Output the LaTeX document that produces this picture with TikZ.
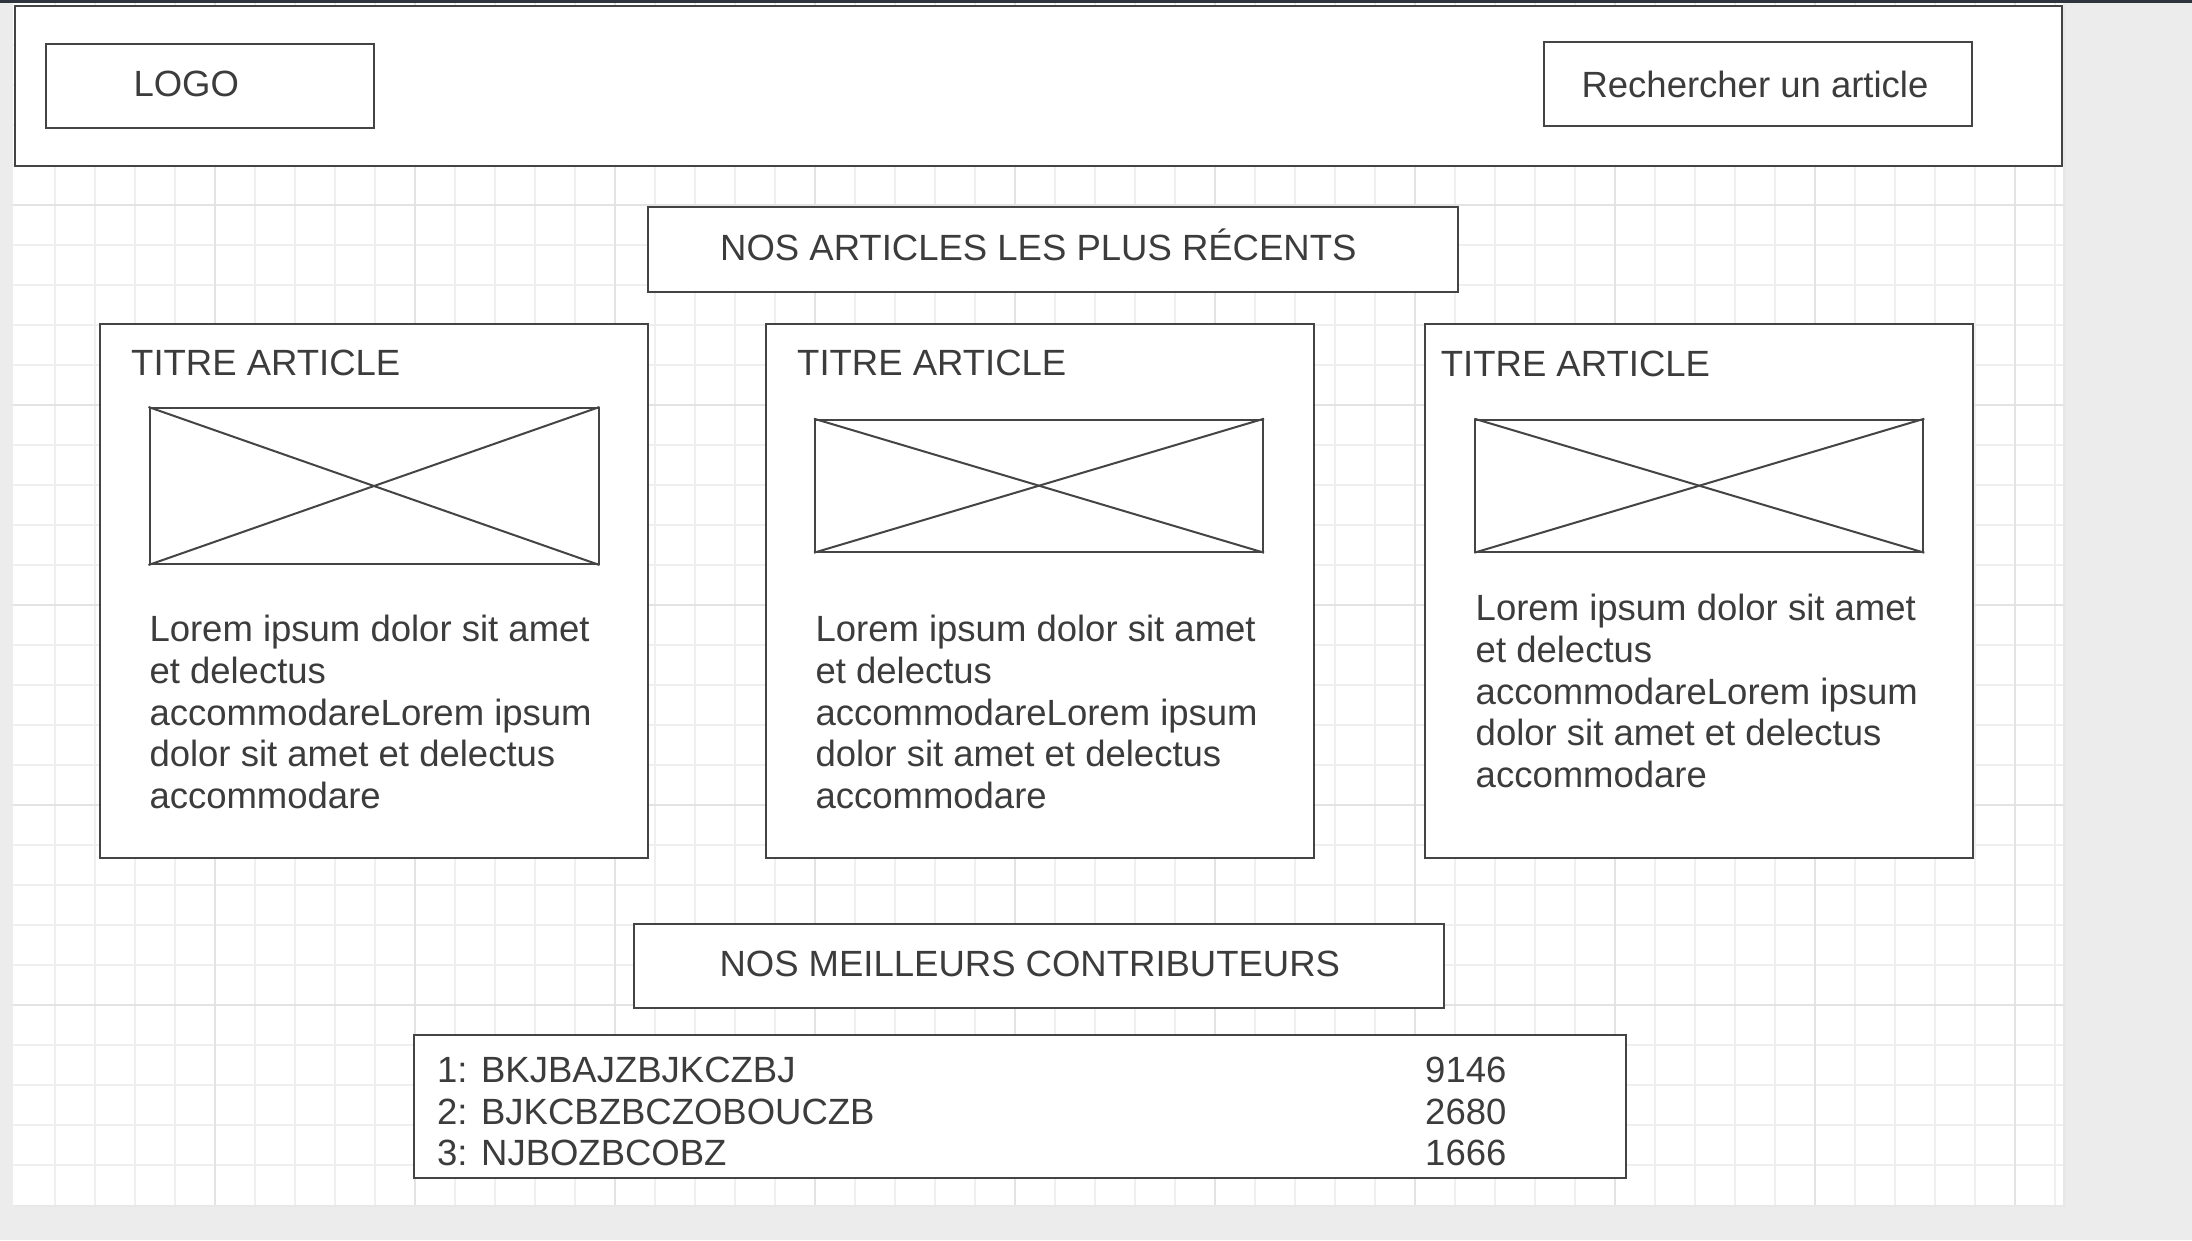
\documentclass[tikz,border=0pt]{standalone}
\usepackage{fontspec}
\setmainfont{Liberation Sans}

\definecolor{pagebg}{HTML}{ECECEC}
\definecolor{topbar}{HTML}{30343C}
\definecolor{gridminor}{HTML}{EFEFEF}
\definecolor{gridmajor}{HTML}{E3E3E3}
\definecolor{stroke}{HTML}{444444}
\definecolor{ink}{HTML}{3C3C3C}

\tikzset{
  frame/.style={draw=stroke, fill=white, line width=2pt, inner sep=0pt,
                anchor=north west, rectangle},
  label/.style={text=ink, inner sep=0pt, font=\fontsize{36.5}{41.7}\selectfont},
  % multi-line blocks are placed by the baseline of their last line
  para/.style={label, align=left, anchor=base west},
  minorline/.style={draw=gridminor, line width=1.8pt},
  majorline/.style={draw=gridmajor, line width=1.8pt},
  cross/.style={draw=stroke, line width=2pt},
}

\newcommand{\loremtext}{Lorem ipsum dolor sit amet\\et delectus\\accommodareLorem ipsum\\dolor sit amet et delectus\\accommodare}

\begin{document}
\begin{tikzpicture}[x=1pt, y=-1pt]
  \useasboundingbox (0,0) rectangle (2192,1240);

  % window background and top bar
  \fill[pagebg] (0,0) rectangle (2192,1240);
  \fill[topbar] (0,0) rectangle (2192,2.5);

  % drawing canvas with a soft edge
  \fill[black!9] (14,4) rectangle (2066,1207);
  \fill[white] (13,3) rectangle (2063,1204.5);

  % grid: minor lines every 40, major every 200
  \foreach \k [evaluate=\k as \xx using 15+40*\k] in {1,...,51}
    \draw[minorline] (\xx,3) -- (\xx,1204.5);
  \foreach \k [evaluate=\k as \yy using 4.7+40*\k] in {1,...,29}
    \draw[minorline] (13,\yy) -- (2063,\yy);
  \foreach \k [evaluate=\k as \xx using 15+40*\k] in {5,10,...,50}
    \draw[majorline] (\xx,3) -- (\xx,1204.5);
  \foreach \k [evaluate=\k as \yy using 4.7+40*\k] in {5,10,...,25}
    \draw[majorline] (13,\yy) -- (2063,\yy);

  % header bar
  \node[frame, minimum width=2047pt, minimum height=159.5pt] (header) at (14,5) {};
  \node[frame, minimum width=328pt, minimum height=84pt] (logobox) at (45,43) {};
  \node[label, anchor=base west] (logo) at (133.3,96.7) {LOGO};
  \node[frame, minimum width=428pt, minimum height=84pt] (searchbox) at (1543,41) {};
  \node[label, anchor=base] (search) at (1755,97) {Rechercher un article};

  % recent articles heading
  \node[frame, minimum width=810pt, minimum height=84.5pt] (recentbox) at (647,206) {};
  \node[label, anchor=base west] (recent) at (720,260.7) {NOS ARTICLES LES PLUS RÉCENTS};

  % article cards
  \node[frame, minimum width=548.5pt, minimum height=534pt] (card1) at (98.5,323) {};
  \node[frame, minimum width=548pt, minimum height=534pt] (card2) at (765,323) {};
  \node[frame, minimum width=548pt, minimum height=534pt] (card3) at (1424.3,323) {};

  \node[label, anchor=base west] (title1) at (131,375) {TITRE ARTICLE};
  \node[label, anchor=base west] (title2) at (797,375) {TITRE ARTICLE};
  \node[label, anchor=base west] (title3) at (1440.7,376) {TITRE ARTICLE};

  % image placeholders
  \node[frame, minimum width=449pt, minimum height=156pt] (img1) at (148.5,407) {};
  \node[frame, minimum width=448pt, minimum height=132pt] (img2) at (814,418.7) {};
  \node[frame, minimum width=448pt, minimum height=132pt] (img3) at (1474.3,418.7) {};
  \foreach \im in {img1,img2,img3} {
    \draw[cross] (\im.north west) -- (\im.south east);
    \draw[cross] (\im.south west) -- (\im.north east);
  }

  \node[para] (text1) at (149.3,808.4) {\loremtext};
  \node[para] (text2) at (815.3,808.4) {\loremtext};
  \node[para] (text3) at (1475.5,787.5) {\loremtext};

  % contributors
  \node[frame, minimum width=810pt, minimum height=84pt] (contribbox) at (632.7,922.7) {};
  \node[label, anchor=base west] (contrib) at (719.3,976) {NOS MEILLEURS CONTRIBUTEURS};

  \node[frame, minimum width=1212pt, minimum height=143pt] (listbox) at (413,1033.5) {};
  \node[para] (names) at (437,1165.7) {1: BKJBAJZBJKCZBJ\\2: BJKCBZBCZOBOUCZB\\3: NJBOZBCOBZ};
  \node[para] (scores) at (1425,1165.7) {9146\\2680\\1666};
\end{tikzpicture}
\end{document}
